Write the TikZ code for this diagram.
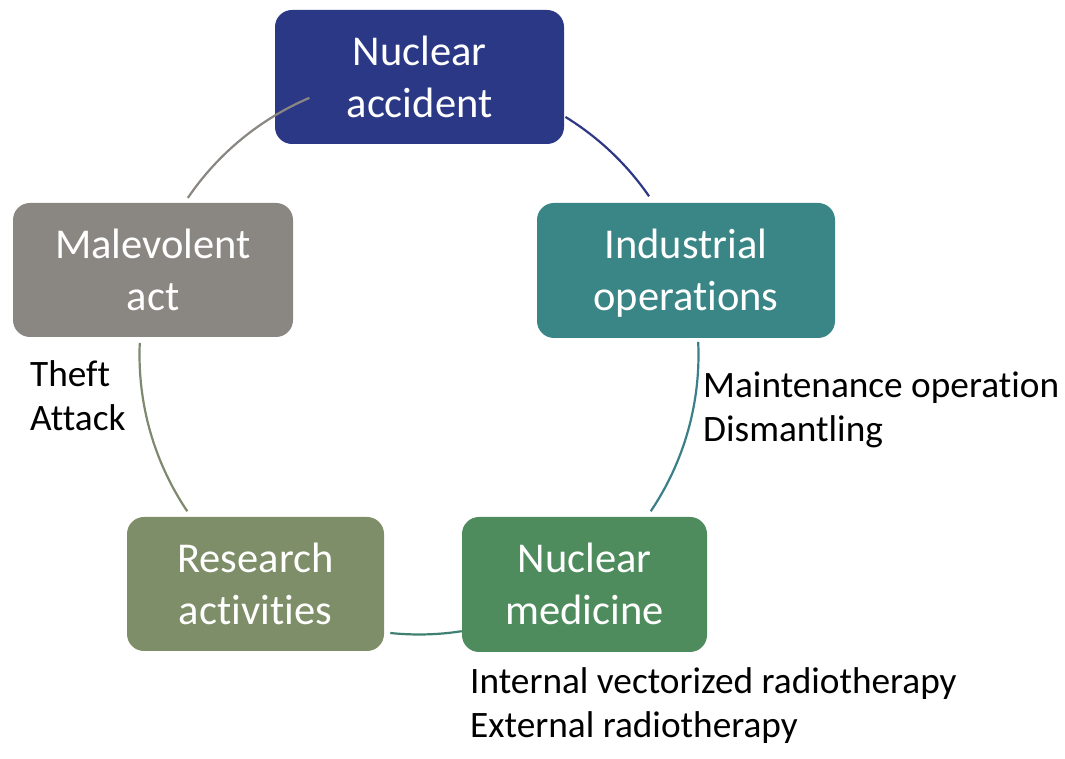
\documentclass[tikz,border=0pt]{standalone}
\usepackage{fontspec}
\setmainfont{Carlito}[Ligatures={NoCommon}]
\definecolor{cNA}{HTML}{2B3886}
\definecolor{cIO}{HTML}{3A8585}
\definecolor{cNM}{HTML}{4E8C5D}
\definecolor{cRA}{HTML}{7E8E68}
\definecolor{cMA}{HTML}{8A8681}
\definecolor{aBlue}{HTML}{2E3887}
\definecolor{aTeal}{HTML}{3A7F89}
\definecolor{aGreen}{HTML}{3E8172}
\definecolor{aOlive}{HTML}{7E896E}
\definecolor{aGray}{HTML}{8A8681}
\tikzset{
  box/.style={rounded corners=17pt, inner sep=0pt, text=white,
    font=\fontsize{42.5}{52}\selectfont, text height=40pt, text depth=63pt},
  lbl/.style={anchor=base west, inner sep=0pt, text=black,
    font=\fontsize{37.3}{44}\selectfont},
  ring/.style={line width=2.2pt}
}
\begin{document}
\begin{tikzpicture}[x=1pt,y=1pt]
\useasboundingbox (0,0) rectangle (1065,759);
\coordinate (c) at (419,404);
% arcs behind the boxes
\draw[ring, draw=aBlue]  (c) ++(58.4:279.5) arc[start angle=58.4, end angle=34.6, radius=279.5];
\draw[ring, draw=aTeal]  (c) ++(2.7:279.5) arc[start angle=2.7, end angle=-34.0, radius=279.5];
\draw[ring, draw=aGreen] (c) ++(-81.2:279.5) arc[start angle=-81.2, end angle=-95.9, radius=279.5];
\draw[ring, draw=aOlive] (c) ++(214.0:279.5) arc[start angle=214.0, end angle=177.5, radius=279.5];
% boxes
\node[box, fill=cNA, minimum width=289pt, minimum height=134pt] (na) at (419.5,682)
  {\begin{tabular}[t]{@{}c@{}}Nuclear\\accident\end{tabular}};
\node[box, fill=cIO, minimum width=298pt, minimum height=135pt] (io) at (686,488.5)
  {\begin{tabular}[t]{@{}c@{}}Industrial\\operations\end{tabular}};
\node[box, fill=cNM, minimum width=245pt, minimum height=135pt] (nm) at (584.5,174.5)
  {\begin{tabular}[t]{@{}c@{}}Nuclear\\medicine\end{tabular}};
\node[box, fill=cRA, minimum width=257pt, minimum height=134pt] (ra) at (255.5,175)
  {\begin{tabular}[t]{@{}c@{}}Research\\activities\end{tabular}};
\node[box, fill=cMA, minimum width=280pt, minimum height=134pt] (ma) at (153,489)
  {\begin{tabular}[t]{@{}c@{}}Malevolent\\act\end{tabular}};
% arc drawn over the top box
\draw[ring, draw=aGray] (c) ++(145.8:279.5) arc[start angle=145.8, end angle=113.1, radius=279.5];
% labels
\node[lbl] (lma) at (30,372) {\begin{tabular}[t]{@{}l@{}}Theft\\Attack\end{tabular}};
\node[lbl] (lio) at (703,361) {\begin{tabular}[t]{@{}l@{}}Maintenance operation\\Dismantling\end{tabular}};
\node[lbl] (lnm) at (470,65) {\begin{tabular}[t]{@{}l@{}}Internal vectorized radiotherapy\\External radiotherapy\end{tabular}};
\end{tikzpicture}
\end{document}
